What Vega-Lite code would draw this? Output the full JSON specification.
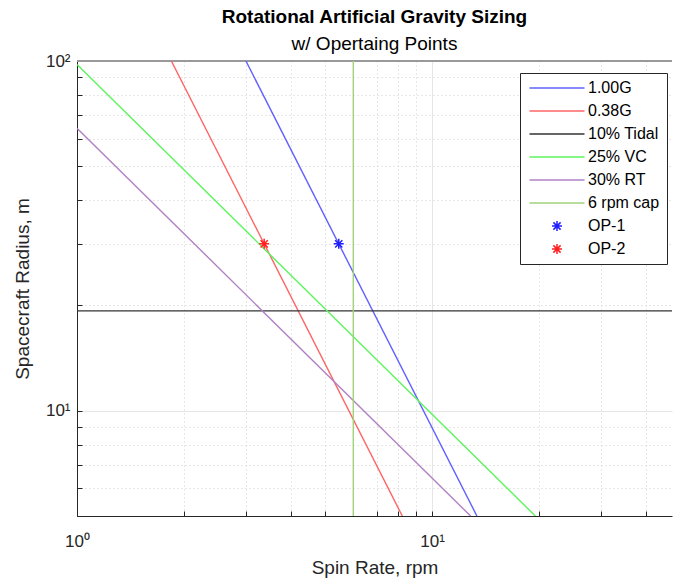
{
  "$schema": "https://vega.github.io/schema/vega-lite/v6.json",
  "width": 595,
  "height": 455,
  "autosize": {"type": "none"},
  "padding": {"left": 77, "top": 61, "right": 1, "bottom": 68},
  "background": "white",
  "title": {
    "text": "Rotational Artificial Gravity Sizing",
    "subtitle": "w/ Opertaing Points",
    "anchor": "middle",
    "font": "Liberation Sans",
    "fontSize": 19,
    "fontWeight": "bold",
    "color": "#000000",
    "subtitleFont": "Liberation Sans",
    "subtitleFontSize": 19,
    "subtitleColor": "#000000",
    "subtitlePadding": 8,
    "offset": -2
  },
  "config": {
    "view": {"stroke": null},
    "axis": {
      "labelFont": "Liberation Sans",
      "titleFont": "Liberation Sans",
      "labelFontSize": 17,
      "titleFontSize": 19,
      "titleFontWeight": "normal",
      "labelColor": "#262626",
      "titleColor": "#262626",
      "domainColor": "#262626",
      "tickColor": "#262626",
      "gridColor": "#cccccc",
      "gridOpacity": 1,
      "labelFlush": false
    }
  },
  "data": {
    "values": [
      {"series": "1.00G", "i": 0, "rpm": 2.991, "radius": 100},
      {"series": "1.00G", "i": 1, "rpm": 13.375, "radius": 5},
      {"series": "0.38G", "i": 0, "rpm": 1.844, "radius": 100},
      {"series": "0.38G", "i": 1, "rpm": 8.245, "radius": 5},
      {"series": "10% Tidal", "i": 0, "rpm": 1, "radius": 19.3},
      {"series": "10% Tidal", "i": 1, "rpm": 47.4, "radius": 19.3},
      {"series": "25% VC", "i": 0, "rpm": 1, "radius": 97.7},
      {"series": "25% VC", "i": 1, "rpm": 19.54, "radius": 5},
      {"series": "30% RT", "i": 0, "rpm": 1, "radius": 64.2},
      {"series": "30% RT", "i": 1, "rpm": 12.84, "radius": 5},
      {"series": "6 rpm cap", "i": 0, "rpm": 6, "radius": 5},
      {"series": "6 rpm cap", "i": 1, "rpm": 6, "radius": 100},
      {"series": "OP-1", "i": 0, "rpm": 5.46, "radius": 30},
      {"series": "OP-2", "i": 0, "rpm": 3.366, "radius": 30}
    ]
  },
  "layer": [
    {
      "mark": {"type": "rule", "color": "#999999", "strokeWidth": 1},
      "encoding": {
        "y": {"datum": 100, "type": "quantitative"}
      }
    },
    {
      "transform": [{"filter": "datum.series != 'OP-1' && datum.series != 'OP-2'"}],
      "mark": {"type": "line", "strokeWidth": 1.4, "clip": true},
      "encoding": {
        "x": {
          "field": "rpm",
          "type": "quantitative",
          "scale": {"type": "log", "domain": [1, 47.4], "nice": false},
          "axis": {
            "title": "Spin Rate, rpm",
            "values": [1, 2, 3, 4, 5, 6, 7, 8, 9, 10, 20, 30, 40],
            "labelExpr": "datum.value == 1 ? '10⁰' : datum.value == 10 ? '10¹' : ''",
            "tickSize": -5,
            "labelPadding": 22,
            "titlePadding": 9,
            "grid": true,
            "gridDash": {"condition": {"test": "datum.value == 10", "value": []}, "value": [1, 3]},
            "gridColor": {"condition": {"test": "datum.value == 10", "value": "#e6e6e6"}, "value": "#cfcfcf"}
          }
        },
        "y": {
          "field": "radius",
          "type": "quantitative",
          "scale": {"type": "log", "domain": [5, 100], "nice": false},
          "axis": {
            "title": "Spacecraft Radius, m",
            "values": [5, 6, 7, 8, 9, 10, 20, 30, 40, 50, 60, 70, 80, 90, 100],
            "labelExpr": "datum.value == 10 ? '10¹' : datum.value == 100 ? '10²' : ''",
            "tickSize": -5,
            "labelPadding": 12,
            "titlePadding": 13,
            "grid": true,
            "gridDash": {"condition": {"test": "datum.value == 10", "value": []}, "value": [1, 3]},
            "gridColor": {"condition": {"test": "datum.value == 10", "value": "#e6e6e6"}, "value": "#cfcfcf"}
          }
        },
        "stroke": {
          "field": "series",
          "type": "nominal",
          "scale": {
            "domain": ["1.00G", "0.38G", "10% Tidal", "25% VC", "30% RT", "6 rpm cap"],
            "range": ["#6060ff", "#ff6464", "#333333", "#5cf55c", "#b080c4", "#a2d27a"]
          },
          "legend": null
        },
        "detail": {"field": "series"},
        "order": {"field": "i"}
      }
    },
    {
      "transform": [{"filter": "datum.series == 'OP-1' || datum.series == 'OP-2'"}],
      "mark": {"type": "point", "filled": false, "strokeWidth": 1.5, "size": 100, "opacity": 1, "clip": true},
      "encoding": {
        "x": {"field": "rpm", "type": "quantitative"},
        "y": {"field": "radius", "type": "quantitative"},
        "color": {
          "field": "series",
          "type": "nominal",
          "scale": {
            "domain": ["1.00G", "0.38G", "10% Tidal", "25% VC", "30% RT", "6 rpm cap", "OP-1", "OP-2"],
            "range": ["#6060ff", "#ff6464", "#333333", "#5cf55c", "#b080c4", "#a2d27a", "#2020ff", "#ff2020"]
          },
          "legend": {
            "title": null,
            "orient": "none",
            "legendX": 443,
            "legendY": 12,
            "symbolSize": 100,
            "symbolStrokeWidth": 1.5,
            "symbolOffset": 22,
            "labelFont": "Liberation Sans",
            "labelFontSize": 16,
            "labelColor": "#000000",
            "labelOffset": 23,
            "strokeColor": "#262626",
            "fillColor": "white",
            "padding": 7,
            "rowPadding": 7
          }
        },
        "shape": {
          "field": "series",
          "type": "nominal",
          "scale": {
            "domain": ["1.00G", "0.38G", "10% Tidal", "25% VC", "30% RT", "6 rpm cap", "OP-1", "OP-2"],
            "range": [
              "M-5.5,0L5.5,0", "M-5.5,0L5.5,0", "M-5.5,0L5.5,0", "M-5.5,0L5.5,0", "M-5.5,0L5.5,0", "M-5.5,0L5.5,0",
              "M-1,0L1,0M0,-1L0,1M-0.72,-0.72L0.72,0.72M-0.72,0.72L0.72,-0.72",
              "M-1,0L1,0M0,-1L0,1M-0.72,-0.72L0.72,0.72M-0.72,0.72L0.72,-0.72"
            ]
          },
          "legend": {
            "title": null,
            "orient": "none",
            "legendX": 443,
            "legendY": 12
          }
        }
      }
    }
  ]
}
